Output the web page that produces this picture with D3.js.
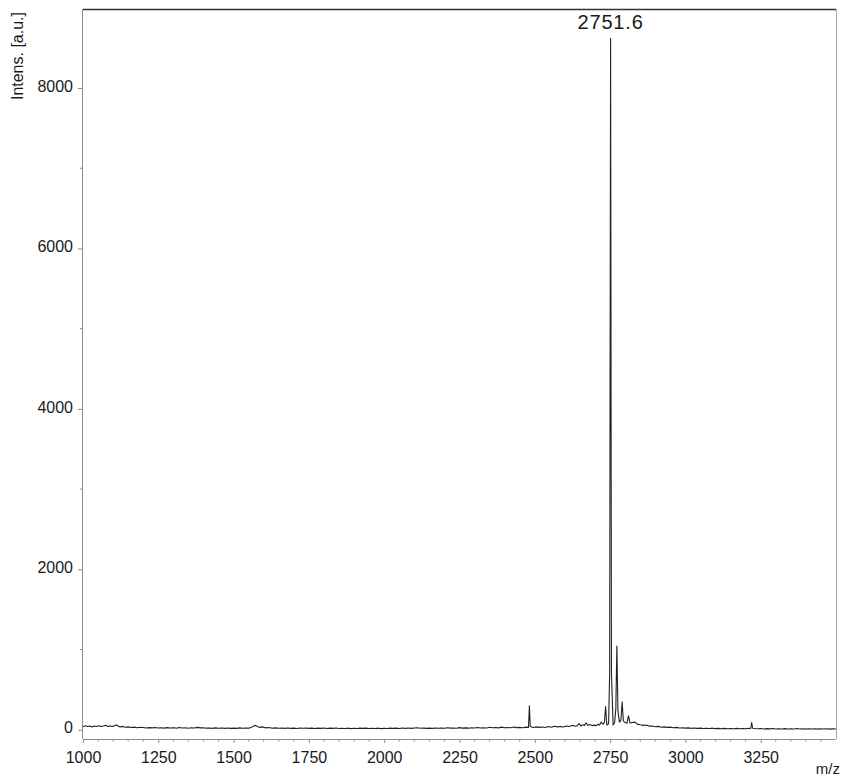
<!DOCTYPE html>
<html>
<head>
<meta charset="utf-8">
<script src="https://cdn.jsdelivr.net/npm/d3@7"></script>
<style>
  html, body { margin: 0; padding: 0; background: #fff; }
  svg { display: block; font-family: Arial, "Liberation Sans", sans-serif; }
</style>
</head>
<body>
<svg id="chart" width="845" height="778"></svg>
<script>
// Mass spectrum, m/z vs intensity.
const spectrum = [
  [1000, 38], [1008, 50], [1015, 40], [1023, 48], [1030, 36], [1038, 46], [1045, 40],
  [1053, 50], [1060, 40], [1068, 46], [1075, 55], [1083, 40], [1090, 48], [1098, 42],
  [1105, 52], [1112, 60], [1118, 42], [1125, 36], [1133, 42], [1140, 32], [1150, 36],
  [1160, 28], [1170, 33], [1180, 26], [1190, 31], [1200, 28], [1210, 22], [1220, 27],
  [1230, 24], [1240, 29], [1250, 22], [1260, 26], [1270, 21], [1280, 27], [1290, 22],
  [1300, 25], [1310, 20], [1320, 28], [1330, 23], [1340, 26], [1350, 20], [1360, 26],
  [1370, 22], [1380, 30], [1390, 24], [1400, 26], [1410, 20], [1420, 23], [1430, 18],
  [1440, 24], [1450, 19], [1460, 22], [1470, 17], [1480, 23], [1490, 18], [1500, 21],
  [1510, 17], [1520, 24], [1530, 19], [1540, 22], [1550, 20], [1560, 32], [1570, 55],
  [1578, 45], [1585, 30], [1595, 36], [1605, 24], [1615, 28], [1630, 20], [1640, 24],
  [1650, 19], [1660, 23], [1670, 17], [1680, 22], [1690, 18], [1700, 21], [1710, 16],
  [1720, 22], [1730, 19], [1740, 23], [1750, 17], [1760, 20], [1770, 15], [1780, 21],
  [1790, 18], [1800, 22], [1810, 16], [1820, 20], [1830, 17], [1840, 22], [1850, 15],
  [1860, 19], [1870, 16], [1880, 20], [1890, 14], [1900, 19], [1910, 16], [1920, 21],
  [1930, 17], [1940, 20], [1950, 15], [1960, 19], [1970, 16], [1980, 20], [1990, 14],
  [2000, 18], [2010, 15], [2020, 21], [2030, 17], [2040, 20], [2050, 16], [2060, 22],
  [2070, 18], [2080, 23], [2090, 17], [2100, 22], [2110, 25], [2120, 19], [2130, 22],
  [2140, 18], [2150, 21], [2160, 17], [2170, 23], [2180, 19], [2190, 22], [2200, 18],
  [2210, 25], [2220, 20], [2230, 23], [2240, 19], [2250, 27], [2260, 21], [2270, 24],
  [2280, 20], [2290, 26], [2300, 22], [2310, 29], [2320, 23], [2330, 26], [2340, 22],
  [2350, 31], [2360, 25], [2370, 28], [2380, 24], [2390, 33], [2400, 26], [2410, 29],
  [2420, 25], [2430, 35], [2440, 27], [2450, 30], [2460, 26], [2470, 33], [2479, 30],
  [2482, 300], [2485, 40], [2495, 28], [2505, 36], [2515, 30], [2525, 34], [2535, 29],
  [2545, 40], [2555, 32], [2565, 44], [2575, 36], [2585, 40], [2595, 35], [2605, 48],
  [2615, 40], [2625, 55], [2635, 45], [2641, 52], [2647, 78], [2653, 48], [2660, 62],
  [2665, 52], [2670, 88], [2676, 55], [2683, 66], [2690, 52], [2698, 58], [2704, 50],
  [2710, 70], [2715, 58], [2720, 95], [2726, 70], [2731, 90], [2735, 290], [2739, 60],
  [2745, 75], [2748.5, 700], [2751.6, 8620], [2754.5, 700], [2760, 60], [2765, 90],
  [2769, 260], [2772.5, 1045], [2776, 240], [2781, 95], [2786, 120], [2790, 350],
  [2794, 110], [2800, 90], [2806, 80], [2811, 175], [2816, 85], [2824, 90], [2832, 95],
  [2840, 70], [2850, 62], [2860, 55], [2870, 60], [2880, 45], [2890, 48], [2900, 38],
  [2910, 42], [2920, 32], [2930, 36], [2940, 30], [2950, 33], [2960, 26], [2970, 30],
  [2980, 22], [2990, 26], [3000, 21], [3010, 24], [3020, 18], [3030, 22], [3040, 17],
  [3050, 21], [3060, 15], [3070, 19], [3080, 16], [3090, 20], [3100, 14], [3110, 18],
  [3120, 13], [3130, 17], [3140, 12], [3150, 16], [3160, 13], [3170, 17], [3180, 12],
  [3190, 16], [3200, 13], [3210, 17], [3217, 16], [3220, 90], [3223, 20], [3230, 16],
  [3240, 12], [3250, 15], [3260, 10], [3270, 14], [3280, 11], [3290, 15], [3300, 9],
  [3310, 13], [3320, 10], [3330, 14], [3340, 9], [3350, 13], [3360, 10], [3370, 15],
  [3380, 9], [3390, 12], [3400, 8], [3410, 13], [3420, 9], [3430, 12], [3440, 8],
  [3450, 12], [3460, 9], [3470, 13], [3480, 8], [3490, 11], [3500, 9]
];

const xTicks = [1000, 1250, 1500, 1750, 2000, 2250, 2500, 2750, 3000, 3250];
const yTicks = [0, 2000, 4000, 6000, 8000];
const peakLabels = [[2751.6, 8620, '2751.6']];

const svg = d3.select('#chart');
const mLeft = 83, mRight = 836, mTop = 9, mBottom = 739;

const x = d3.scaleLinear().domain([1000, 3500]).range([mLeft, mRight]);
const y = d3.scaleLinear().domain([-115, 8985]).range([mBottom, mTop]);

// frame: grey axes, dark top edge
svg.append('line').attr('x1', mLeft).attr('x2', mRight).attr('y1', mTop + 0.5).attr('y2', mTop + 0.5)
    .attr('stroke', '#333').attr('stroke-width', 1.4);
svg.append('line').attr('x1', mRight + 0.5).attr('x2', mRight + 0.5).attr('y1', mTop).attr('y2', mBottom)
    .attr('stroke', '#aaa');

// spectrum trace
svg.append('path')
    .datum(spectrum)
    .attr('fill', 'none')
    .attr('stroke', '#222')
    .attr('stroke-width', 1.1)
    .attr('stroke-linejoin', 'round')
    .attr('d', d3.line().x(d => x(d[0])).y(d => y(d[1])));

// x axis with minor ticks every 50
const xMinor = d3.range(1000, 3501, 50).filter(v => v % 250 !== 0);
const gx = svg.append('g').attr('transform', `translate(0,${mBottom})`);
gx.call(d3.axisBottom(x).tickValues(xTicks).tickSize(4).tickPadding(9).tickFormat(d3.format('d')));
gx.selectAll('.minor').data(xMinor).join('line').attr('class', 'minor')
    .attr('x1', d => x(d)).attr('x2', d => x(d)).attr('y1', 0).attr('y2', 2.5);
gx.select('.domain').attr('d', `M${mLeft},0.5H${mRight}`);

// y axis with minor ticks every 1000
const yMinor = d3.range(1000, 9000, 2000);
const gy = svg.append('g').attr('transform', `translate(${mLeft},0)`);
gy.call(d3.axisLeft(y).tickValues(yTicks).tickSize(5).tickPadding(5).tickFormat(d3.format('d')));
gy.selectAll('.minor').data(yMinor).join('line').attr('class', 'minor')
    .attr('y1', d => y(d)).attr('y2', d => y(d)).attr('x1', 0).attr('x2', -3);
gy.select('.domain').attr('d', `M-0.5,${mTop}V${mBottom}`);

svg.selectAll('.domain, .tick line, .minor').attr('stroke', '#8c8c8c');
svg.selectAll('.tick text').attr('font-size', 16).attr('fill', '#1a1a1a')
    .attr('font-family', 'Arial, "Liberation Sans", sans-serif');
gy.selectAll('.tick text').attr('dy', '0.2em');

// axis titles
svg.append('text')
    .attr('transform', 'translate(23,12) rotate(-90)')
    .attr('text-anchor', 'end')
    .attr('font-size', 16)
    .attr('fill', '#1a1a1a')
    .text('Intens. [a.u.]');

svg.append('text')
    .attr('x', 840).attr('y', 774)
    .attr('text-anchor', 'end')
    .attr('font-size', 15)
    .attr('fill', '#1a1a1a')
    .text('m/z');

// peak annotation
svg.selectAll('.peak-label').data(peakLabels).join('text')
    .attr('class', 'peak-label')
    .attr('x', d => x(d[0]))
    .attr('y', 29)
    .attr('text-anchor', 'middle')
    .attr('font-size', 20)
    .attr('letter-spacing', 0.8)
    .attr('fill', '#1a1a1a')
    .text(d => d[2]);
</script>
</body>
</html>
